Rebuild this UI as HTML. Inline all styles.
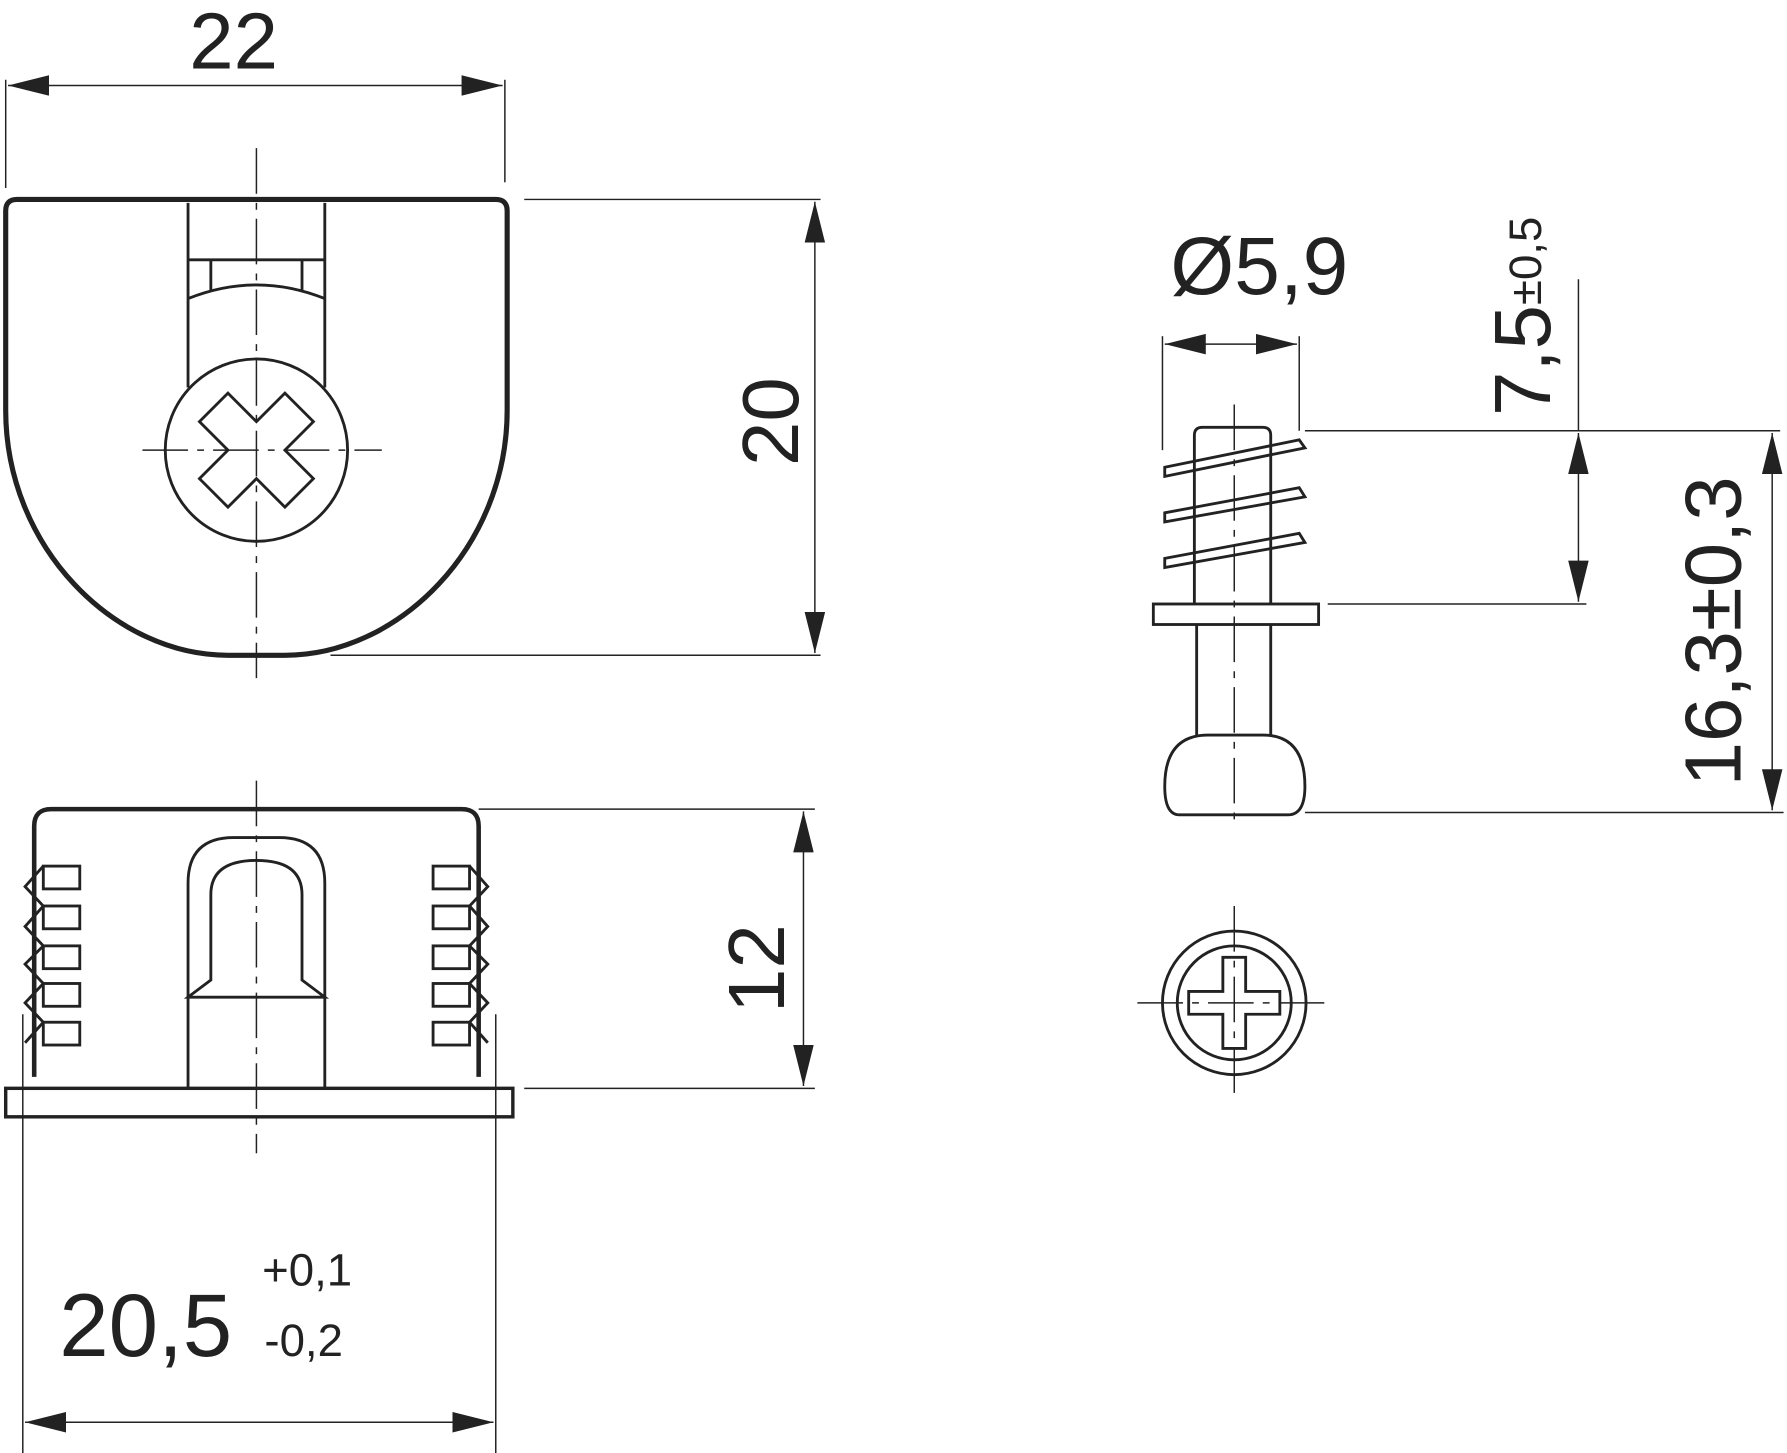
<!DOCTYPE html>
<html><head><meta charset="utf-8"><style>html,body{margin:0;padding:0;background:#fff}svg{display:block}</style></head><body>
<svg width="1787" height="1453" viewBox="0 0 1568 1275" preserveAspectRatio="none" xmlns="http://www.w3.org/2000/svg" font-family="Liberation Sans, sans-serif" fill="none" stroke="#222">
<defs><marker id="a" viewBox="0 0 20 10" refX="20" refY="5" markerWidth="36" markerHeight="18" markerUnits="userSpaceOnUse" orient="auto-start-reverse"><path d="M0,0 L20,5 L0,10 Z" fill="#222" stroke="none"/></marker></defs>
<g stroke-width="1.3">
<!-- top view dims -->
<line x1="5" y1="70" x2="5" y2="165"/><line x1="443" y1="70" x2="443" y2="160"/>
<line x1="7" y1="75" x2="441" y2="75" marker-start="url(#a)" marker-end="url(#a)"/>
<line x1="460" y1="175" x2="720" y2="175"/><line x1="290" y1="575" x2="720" y2="575"/>
<line x1="715" y1="177" x2="715" y2="573" marker-start="url(#a)" marker-end="url(#a)"/>
<line x1="225" y1="130" x2="225" y2="595" stroke-dasharray="40,8,6,8"/>
<line x1="125" y1="395" x2="335" y2="395" stroke-dasharray="40,8,6,8"/>
<!-- side dims -->
<line x1="420" y1="710" x2="715" y2="710"/><line x1="460" y1="955" x2="715" y2="955"/>
<line x1="705" y1="712" x2="705" y2="953" marker-start="url(#a)" marker-end="url(#a)"/>
<line x1="20" y1="890" x2="20" y2="1275"/><line x1="435" y1="890" x2="435" y2="1275"/>
<line x1="22" y1="1248" x2="433" y2="1248" marker-start="url(#a)" marker-end="url(#a)"/>
<line x1="225" y1="685" x2="225" y2="1012" stroke-dasharray="40,8,6,8"/>
<!-- screw dims -->
<line x1="1020" y1="295" x2="1020" y2="395"/><line x1="1140" y1="295" x2="1140" y2="378"/>
<line x1="1022" y1="302" x2="1138" y2="302" marker-start="url(#a)" marker-end="url(#a)"/>
<line x1="1145" y1="378" x2="1562" y2="378"/><line x1="1165" y1="530" x2="1392" y2="530"/><line x1="1145" y1="713" x2="1565" y2="713"/>
<line x1="1385" y1="245" x2="1385" y2="378"/>
<line x1="1385" y1="380" x2="1385" y2="528" marker-start="url(#a)" marker-end="url(#a)"/>
<line x1="1555" y1="380" x2="1555" y2="711" marker-start="url(#a)" marker-end="url(#a)"/>
<line x1="1083" y1="355" x2="1083" y2="725" stroke-dasharray="40,8,6,8"/>
<line x1="1083" y1="795" x2="1083" y2="965" stroke-dasharray="40,8,6,8"/>
<line x1="998" y1="880" x2="1168" y2="880" stroke-dasharray="40,8,6,8"/>
</g>
<g stroke-width="4.5" stroke-linejoin="round">
<path d="M5,185 Q5,175 15,175 L435,175 Q445,175 445,185 L445,360 C445,480 350,575 250,575 L200,575 C100,575 5,480 5,360 Z"/>
</g>
<g stroke-width="2.5">
<line x1="165" y1="178" x2="165" y2="340"/><line x1="285" y1="178" x2="285" y2="340"/>
<line x1="165" y1="228" x2="285" y2="228"/><line x1="185" y1="228" x2="185" y2="255"/><line x1="265" y1="228" x2="265" y2="255"/>
<path d="M165,262 Q225,238 285,262"/>
<circle cx="225" cy="395" r="80"/>
<path d="M225,370 L250,345 L275,370 L250,395 L275,420 L250,445 L225,420 L200,445 L175,420 L200,395 L175,370 L200,345 Z"/>
<!-- side view -->
<path d="M30,945 L30,725 Q30,710 45,710 L405,710 Q420,710 420,725 L420,945" stroke-width="4"/>
<rect x="5" y="955" width="445" height="25" stroke-width="3"/>
<path d="M165,955 L165,875 L165,775 Q165,735 205,735 L245,735 Q285,735 285,775 L285,875 L285,955"/>
<path d="M165,875 L185,860 L185,785 Q185,755 225,755 Q265,755 265,785 L265,860 L285,875 Z"/>
<g id="t"><rect x="38" y="760" width="32" height="20"/><rect x="38" y="795" width="32" height="20"/><rect x="38" y="830" width="32" height="20"/><rect x="38" y="863" width="32" height="20"/><rect x="38" y="897" width="32" height="20"/>
<path d="M38,760 L22,778 L38,795 L22,813 L38,830 L22,846 L38,863 L22,880 L38,897 L22,915"/></g>
<use href="#t" transform="translate(450,0) scale(-1,1)"/>
<!-- screw -->
<path d="M1048,530 L1048,382 Q1048,375 1055,375 L1108,375 Q1115,375 1115,382 L1115,530"/>
<path d="M1022,410 L1140,386 L1145,393 L1022,418 Z M1022,450 L1140,428 L1145,436 L1022,458 Z M1022,490 L1140,468 L1145,476 L1022,498 Z"/>
<rect x="1012" y="530" width="145" height="18"/>
<path d="M1050,548 L1050,645 M1115,548 L1115,645"/>
<path d="M1035,715 Q1022,715 1022,690 Q1022,645 1060,645 L1108,645 Q1145,645 1145,690 Q1145,715 1130,715 Z"/>
<circle cx="1083" cy="880" r="63"/><circle cx="1083" cy="880" r="50"/>
<path d="M1073,840 L1093,840 L1093,870 L1123,870 L1123,890 L1093,890 L1093,920 L1073,920 L1073,890 L1043,890 L1043,870 L1073,870 Z"/>
</g>
<g fill="#222" stroke="none">
<text x="205" y="60" font-size="70" text-anchor="middle">22</text>
<text transform="translate(700,370) rotate(-90)" font-size="70" text-anchor="middle">20</text>
<text transform="translate(688,850) rotate(-90)" font-size="70" text-anchor="middle">12</text>
<text x="52" y="1190" font-size="78">20,5</text>
<text x="230" y="1128" font-size="40">+0,1</text>
<text x="232" y="1190" font-size="40">-0,2</text>
<text x="1105" y="258" font-size="72" text-anchor="middle">Ø5,9</text>
<text transform="translate(1360,365) rotate(-90)" font-size="70">7,5<tspan font-size="40" dy="-8">±0,5</tspan></text>
<text transform="translate(1527,690) rotate(-90)" font-size="70">16,3±0,3</text>
</g>
</svg>
</body></html>
